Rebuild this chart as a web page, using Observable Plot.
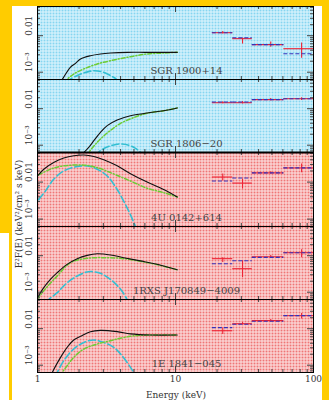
<!DOCTYPE html>
<html><head><meta charset="utf-8">
<script src="https://cdn.jsdelivr.net/npm/d3@7"></script>
<script src="https://cdn.jsdelivr.net/npm/@observablehq/plot@0.6"></script>
<style>
body{margin:0;background:#fff;}
#root{position:relative;width:329px;height:400px;overflow:hidden;background:#fff;font-family:"DejaVu Serif",serif;color:#333;}
.gold{position:absolute;background:#ffcc00;}
.panel{position:absolute;left:0;}
.lab{position:absolute;white-space:nowrap;font-size:9px;color:#333;}
</style></head><body>
<svg width="0" height="0" style="position:absolute">
<defs>
<pattern id="bluePat" width="3" height="3" patternUnits="userSpaceOnUse">
<rect width="3" height="3" fill="#86d5f0"/>
<rect x="0" y="0" width="3" height="1" fill="#e2f6fd"/>
<rect x="0" y="0" width="1" height="3" fill="#e2f6fd"/>
</pattern>
<pattern id="pinkPat" width="3" height="3" patternUnits="userSpaceOnUse">
<rect width="3" height="3" fill="#ee7676"/>
<rect x="0" y="0" width="3" height="1" fill="#fde6e6"/>
<rect x="0" y="0" width="1" height="3" fill="#fde6e6"/>
</pattern>
</defs>
</svg>
<div id="root">
<div class="gold" style="left:0;top:0;width:329px;height:6px"></div>
<div class="gold" style="left:0;top:0;width:12px;height:233px"></div>
<div class="gold" style="left:9px;top:0;width:3px;height:400px"></div>
<div class="gold" style="left:322px;top:0;width:7px;height:400px"></div>
<div class="lab" style="left:19px;top:214px;transform:translate(-50%,-50%) rotate(-90deg)">E²F(E) (keV²/cm² s keV)</div>
<div class="lab" style="left:176px;top:395px;transform:translate(-50%,-50%)">Energy (keV)</div>
</div>
<script>
// ---------- data ----------
const names = ["SGR 1900+14", "SGR 1806\u221220", "4U 0142+614", "1RXS J170849\u22124009", "1E 1841\u2212045"];
const backgrounds = ["blue", "blue", "pink", "pink", "pink"];

// soft X-ray model components [energy keV, E^2 F(E)]
const sgr1900Total = [[1.45,5e-4],[1.51,6.3e-4],[1.73,1.36e-3],[1.885,1.74e-3],[2.05,2.3e-3],[2.42,2.83e-3],[2.86,3.16e-3],[3.38,3.35e-3],[4.5,3.5e-3],[6,3.5e-3],[8,3.5e-3],[10.3,3.5e-3]];
const sgr1900PL = [[1.58,5e-4],[1.64,6.3e-4],[1.83,8.9e-4],[2.16,1.22e-3],[2.71,1.68e-3],[3.57,2.16e-3],[4.72,2.66e-3],[6.23,3.16e-3],[8.2,3.35e-3],[10.3,3.5e-3]];
const sgr1900BB = [[1.65,5e-4],[1.72,6.3e-4],[2.0,8.5e-4],[2.3,1.02e-3],[2.6,1.1e-3],[3.0,1.0e-3],[3.4,8e-4],[3.75,6.3e-4],[3.9,5e-4]];

const sgr1806Total = [[2.1,5e-4],[2.17,6.3e-4],[2.35,8.7e-4],[2.56,1.33e-3],[2.86,2.24e-3],[3.2,3.43e-3],[3.78,4.9e-3],[4.72,6.4e-3],[6.23,7.6e-3],[8.2,8.8e-3],[10.3,1.05e-2]];
const sgr1806PL = [[2.28,5e-4],[2.35,6.3e-4],[2.71,1.2e-3],[3.2,2.16e-3],[4.0,3.96e-3],[5.28,6.2e-3],[6.23,7.5e-3],[8.2,8.8e-3],[10.3,1.05e-2]];
const sgr1806BB = [[2.65,5e-4],[2.75,6.3e-4],[3.1,8.5e-4],[3.5,1.0e-3],[4.0,1.08e-3],[4.6,1.0e-3],[5.1,8.3e-4],[5.6,6.3e-4],[5.8,5e-4]];

const u0142Total = [[1.0,1.46e-2],[1.11,2.23e-2],[1.31,3.39e-2],[1.55,4.46e-2],[1.83,5.16e-2],[2.17,5.4e-2],[2.56,4.94e-2],[3.02,4.01e-2],[3.78,2.75e-2],[4.72,1.69e-2],[6.23,1.0e-2],[8.2,6.3e-3],[10.3,3.96e-3]];
const u0142PL = [[1.02,1.56e-2],[1.24,2.23e-2],[1.55,2.75e-2],[2.17,2.87e-2],[2.71,2.47e-2],[3.38,1.8e-2],[4.72,1.07e-2],[6.23,6.8e-3],[8.2,5.2e-3],[10.3,3.96e-3]];
const u0142BB = [[1.02,3.36e-3],[1.14,5.7e-3],[1.31,1.19e-2],[1.55,2.0e-2],[1.94,2.63e-2],[2.29,2.75e-2],[2.71,2.23e-2],[3.2,1.46e-2],[3.78,6.3e-3],[4.22,3.0e-3],[4.72,1.3e-3],[5.13,6.3e-4],[5.3,5e-4]];

const rxsTotal = [[1.0,7.1e-4],[1.11,1.33e-3],[1.24,2.24e-3],[1.39,3.43e-3],[1.64,5.8e-3],[1.94,8.3e-3],[2.29,1.02e-2],[2.71,1.13e-2],[3.38,1.05e-2],[4.22,8.8e-3],[5.57,7.2e-3],[7.36,5.8e-3],[10.3,4.1e-3]];
const rxsPL = [[1.0,6.5e-4],[1.11,1.1e-3],[1.39,2.78e-3],[1.73,6.4e-3],[2.29,8.5e-3],[3.2,8.8e-3],[4.22,8.3e-3],[5.57,7.0e-3],[7.36,5.7e-3],[10.3,4.1e-3]];
const rxsBB = [[1.17,5e-4],[1.21,6.3e-4],[1.39,9.7e-4],[1.64,1.82e-3],[1.94,2.78e-3],[2.35,3.65e-3],[2.86,3.28e-3],[3.38,2.24e-3],[4.0,1.2e-3],[4.46,6.3e-4],[4.6,5e-4]];

const e1841Total = [[1.25,5e-4],[1.28,6.3e-4],[1.47,1.64e-3],[1.64,3.08e-3],[1.83,4.9e-3],[2.05,6.2e-3],[2.42,8.3e-3],[2.86,9.0e-3],[3.78,8.3e-3],[4.72,7.2e-3],[6.6,6.7e-3],[10.3,6.7e-3]];
const e1841PL = [[1.47,5e-4],[1.51,6.3e-4],[1.64,9.7e-4],[1.83,1.64e-3],[2.17,2.78e-3],[2.71,3.8e-3],[3.38,4.7e-3],[4.72,6.2e-3],[6.23,6.7e-3],[10.3,6.7e-3]];
const e1841BB = [[1.35,5e-4],[1.39,6.3e-4],[1.55,1.33e-3],[1.83,2.78e-3],[2.17,4.2e-3],[2.56,4.9e-3],[3.02,4.2e-3],[3.57,3.08e-3],[4.1,1.82e-3],[4.72,8.7e-4],[4.98,6.3e-4],[5.1,5e-4]];

// hard X-ray bins
const binEdges = [18.5, 26, 36, 61, 100];
const binCenters = [22, 30.6, 49, 82];

const sgr1900Data = [0.0121, 0.0083, 0.0057, 0.0044];
const sgr1900Lo = [0.0112, 0.0059, 0.0048, 0.0024];
const sgr1900Hi = [0.0131, 0.0086, 0.0067, 0.0063];
const sgr1900Model = [0.0121, 0.0088, 0.0057, 0.0032];

const sgr1806Data = [0.0146, 0.0146, 0.0177, 0.0188];
const sgr1806Lo = [0.0136, 0.0135, 0.0165, 0.0168];
const sgr1806Hi = [0.0156, 0.0157, 0.0190, 0.0200];
const sgr1806Model = [0.0153, 0.0153, 0.0177, 0.0188];

const u0142Data = [0.0137, 0.0094, 0.0177, 0.0242];
const u0142Lo = [0.0107, 0.0065, 0.0165, 0.0180];
const u0142Hi = [0.0166, 0.0121, 0.0190, 0.0310];
const u0142Model = [0.0107, 0.0129, 0.0177, 0.0242];

const rxsData = [0.0083, 0.0044, 0.0094, 0.0121];
const rxsLo = [0.0065, 0.0025, 0.0087, 0.0088];
const rxsHi = [0.0088, 0.0073, 0.0101, 0.0146];
const rxsModel = [0.0060, 0.0073, 0.0090, 0.0121];

const e1841Data = [0.0088, 0.0137, 0.0166, 0.0228];
const e1841Lo = [0.0069, 0.0127, 0.0155, 0.0185];
const e1841Hi = [0.0107, 0.0147, 0.0178, 0.0260];
const e1841Model = [0.0107, 0.0133, 0.0160, 0.0228];

const xTickLabels = [1, 10, 100];
const yTickLabels = [0.01, 0.001];

// ---------- build ----------
const totals = [sgr1900Total, sgr1806Total, u0142Total, rxsTotal, e1841Total];
const pls = [sgr1900PL, sgr1806PL, u0142PL, rxsPL, e1841PL];
const bbs = [sgr1900BB, sgr1806BB, u0142BB, rxsBB, e1841BB];
const datas = [sgr1900Data, sgr1806Data, u0142Data, rxsData, e1841Data];
const los = [sgr1900Lo, sgr1806Lo, u0142Lo, rxsLo, e1841Lo];
const his = [sgr1900Hi, sgr1806Hi, u0142Hi, rxsHi, e1841Hi];
const models = [sgr1900Model, sgr1806Model, u0142Model, rxsModel, e1841Model];

const tops = [6, 79, 152, 226, 299, 372];
const W = 329, ML = 37, MR = 16;
const frameW = W - ML - MR;
const yDomain = [10 ** -3.2, 10 ** -1.2];

const xMinor = [], xMajor = [1, 10, 100];
for (const d of [1, 10]) for (let k = 2; k <= 9; k++) xMinor.push(d * k);
const yMinor = [], yMajor = [0.001, 0.01];
for (const d of [1e-4, 1e-3, 1e-2]) for (let k = 2; k <= 9; k++) { const v = d * k; if (v > yDomain[0] && v < yDomain[1]) yMinor.push(v); }

const fmtY = d => d === 0.01 ? "0.01" : "10\u207B\u00B3";
const root = document.getElementById("root");

names.forEach((name, i) => {
  const h = tops[i + 1] - tops[i];
  const last = i === names.length - 1;
  const mt = 1, mb = last ? 26 : 1;
  const bins = datas[i].map((v, j) => ({e0: binEdges[j], e1: binEdges[j + 1], c: binCenters[j], v, lo: los[i][j], hi: his[i][j], m: models[i][j]}));
  const bg = backgrounds[i] === "blue" ? "url(#bluePat)" : "url(#pinkPat)";
  const marks = [
    Plot.frame({fill: bg, stroke: null}),
    Plot.line(bbs[i], {x: d => d[0], y: d => d[1], stroke: "#33bfd2", strokeWidth: 1.6, strokeDasharray: "7,3", curve: "catmull-rom", clip: true}),
    Plot.line(pls[i], {x: d => d[0], y: d => d[1], stroke: "#6ccc33", strokeWidth: 1.5, strokeDasharray: "4,2,1,2", curve: "catmull-rom", clip: true}),
    Plot.line(totals[i], {x: d => d[0], y: d => d[1], stroke: "#111", strokeWidth: 1.1, curve: "catmull-rom", clip: true}),
    Plot.ruleY(bins, {x1: "e0", x2: "e1", y: "v", stroke: "#ee2233", strokeWidth: 1.1}),
    Plot.ruleX(bins, {x: "c", y1: "lo", y2: "hi", stroke: "#ee2233", strokeWidth: 1.1}),
    Plot.ruleY(bins, {x1: "e0", x2: "e1", y: "m", stroke: "#3333bb", strokeWidth: 1.1, strokeDasharray: "4,2"}),
    // inward ticks
    Plot.tickX(xMinor, {x: d => d, insetTop: h - 3, stroke: "#444"}),
    Plot.tickX(xMinor, {x: d => d, insetBottom: h - 3, stroke: "#444"}),
    Plot.tickX(xMajor, {x: d => d, insetTop: h - 6, stroke: "#444"}),
    Plot.tickX(xMajor, {x: d => d, insetBottom: h - 6, stroke: "#444"}),
    Plot.tickY(yMinor, {y: d => d, insetRight: frameW - 3, stroke: "#444"}),
    Plot.tickY(yMinor, {y: d => d, insetLeft: frameW - 3, stroke: "#444"}),
    Plot.tickY(yMajor, {y: d => d, insetRight: frameW - 6, stroke: "#444"}),
    Plot.tickY(yMajor, {y: d => d, insetLeft: frameW - 6, stroke: "#444"}),
    Plot.text(yTickLabels, {y: d => d, text: fmtY, frameAnchor: "left", dx: -8, rotate: -90, fontSize: 9, fill: "#333"}),
    Plot.text([name], {text: d => d, frameAnchor: "bottom", dx: 11, dy: -9, lineAnchor: "middle", fontSize: 10, fill: "#444"}),
    Plot.frame({stroke: "#000", strokeWidth: 1})
  ];
  // heavier divider where the blue group meets the pink group
  if (i > 0 && backgrounds[i] !== backgrounds[i - 1]) marks.push(Plot.ruleY([yDomain[1]], {stroke: "#000", strokeWidth: 2.2}));
  if (last) marks.push(Plot.text(xTickLabels, {x: d => d, text: d => String(d), frameAnchor: "bottom", dy: 7, lineAnchor: "middle", fontSize: 9, fill: "#333"}));
  const chart = Plot.plot({
    width: W, height: h + mt + mb,
    marginLeft: ML, marginRight: MR, marginTop: mt, marginBottom: mb,
    x: {type: "log", domain: [1, 100], axis: null},
    y: {type: "log", domain: yDomain, axis: null},
    style: {background: "transparent", overflow: "visible", fontFamily: "DejaVu Serif"},
    marks
  });
  chart.classList.add("panel");
  chart.style.top = (tops[i] - mt) + "px";
  root.appendChild(chart);
});
</script>
</body></html>
